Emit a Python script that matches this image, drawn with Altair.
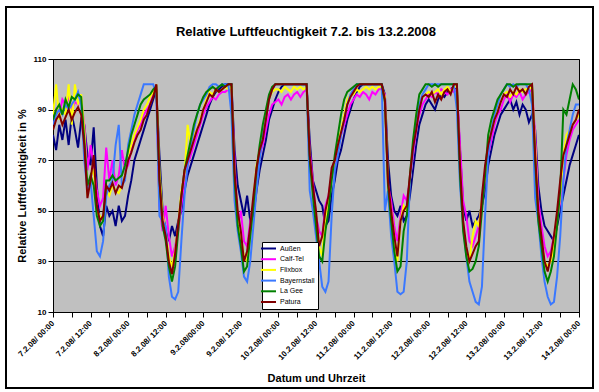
import json
import altair as alt
import pandas as pd

# Hourly readings from 7.2.2008 00:00 (hour 0) to 14.2.2008 00:00 (hour 168)
hours = list(range(0, 169))

aussen = [
    80, 74, 84, 78, 86, 76, 88, 82, 75, 86, 84, 72, 68, 83, 60, 44, 40, 52, 48, 50, 44, 52, 46, 48,
    56, 62, 70, 74, 78, 82, 86, 90, 94, 98, 72, 50, 42, 38, 44, 40, 46, 50, 58, 64, 68, 72, 76, 80,
    84, 88, 92, 95, 97, 98, 99, 100, 100, 100, 74, 60, 54, 48, 56, 46, 48, 58, 66, 72, 78, 86, 90, 94,
    97, 99, 100, 100, 100, 100, 100, 100, 100, 100, 78, 62, 58, 54, 52, 44, 46, 56, 62, 70, 74, 80, 86, 90,
    94, 97, 99, 100, 100, 100, 100, 100, 100, 100, 96, 70, 56, 50, 48, 52, 46, 48, 56, 66, 76, 84, 88, 92,
    94, 92, 90, 94, 96, 95, 97, 98, 99, 97, 74, 52, 46, 50, 44, 46, 48, 52, 58, 68, 74, 80, 84, 88,
    90, 92, 94, 90, 93, 88, 92, 90, 85, 88, 82, 60, 50, 44, 42, 40, 38, 44, 50, 56, 62, 68, 72, 76,
    80,
]
calf_tel = [
    86, 90, 88, 94, 92, 95, 90, 93, 92, 94, 84, 66, 76, 68, 58, 52, 55, 75, 62, 70, 60, 64, 74, 66,
    68, 74, 78, 82, 84, 88, 90, 92, 96, 98, 52, 42, 52, 40, 32, 36, 42, 52, 62, 68, 72, 76, 80, 84,
    88, 91, 93, 95, 94, 96, 97, 97, 98, 98, 70, 44, 50, 38, 36, 46, 52, 62, 72, 76, 82, 88, 92, 93,
    94, 92, 95, 96, 94, 96, 97, 95, 97, 98, 74, 62, 48, 42, 40, 52, 56, 64, 68, 74, 80, 84, 88, 92,
    94, 96, 95, 97, 96, 94, 97, 96, 98, 98, 96, 60, 54, 44, 38, 48, 56, 54, 62, 72, 82, 88, 92, 94,
    96, 95, 97, 96, 98, 97, 96, 98, 97, 98, 76, 54, 48, 38, 36, 40, 44, 52, 62, 72, 78, 84, 88, 90,
    94, 96, 93, 96, 95, 97, 94, 96, 97, 98, 80, 54, 44, 36, 32, 34, 40, 46, 54, 62, 72, 78, 82, 84,
    86,
]
flixbox = [
    88, 100, 86, 90, 88, 100, 84, 100, 92, 96, 82, 56, 64, 66, 50, 48, 46, 58, 56, 60, 58, 57, 60, 64,
    72, 76, 80, 83, 86, 90, 92, 95, 97, 99, 66, 48, 42, 32, 28, 34, 44, 58, 64, 84, 76, 80, 82, 86,
    90, 94, 97, 96, 98, 97, 98, 99, 98, 99, 64, 48, 40, 32, 30, 42, 54, 68, 74, 80, 86, 94, 97, 98,
    98, 97, 99, 98, 97, 99, 98, 99, 98, 99, 70, 58, 48, 36, 32, 48, 52, 64, 70, 76, 82, 88, 94, 96,
    96, 98, 97, 98, 99, 98, 99, 98, 99, 99, 95, 60, 50, 40, 30, 46, 52, 50, 62, 76, 88, 92, 95, 96,
    97, 96, 97, 98, 96, 98, 99, 97, 99, 99, 66, 44, 34, 30, 40, 46, 44, 54, 64, 74, 82, 86, 90, 93,
    96, 97, 95, 97, 96, 98, 97, 98, 98, 99, 76, 48, 38, 30, 28, 30, 36, 46, 56, 72, 80, 82, 84, 86,
    88,
]
bayernstall = [
    84, 88, 90, 88, 92, 90, 92, 94, 97, 92, 70, 58, 62, 48, 34, 32, 38, 56, 60, 62, 76, 84, 60, 62,
    76, 82, 88, 92, 96, 100, 100, 100, 100, 96, 48, 46, 44, 24, 16, 15, 18, 38, 56, 68, 76, 82, 88, 92,
    94, 96, 99, 100, 100, 99, 100, 100, 100, 88, 54, 42, 34, 24, 22, 30, 44, 58, 70, 80, 86, 94, 98, 100,
    100, 100, 100, 100, 100, 100, 100, 100, 100, 100, 58, 50, 40, 30, 20, 18, 22, 48, 66, 72, 80, 86, 92, 96,
    98, 100, 100, 100, 100, 100, 100, 100, 100, 100, 50, 58, 40, 30, 18, 17, 18, 30, 62, 74, 86, 92, 96, 98,
    100, 100, 100, 100, 100, 100, 100, 100, 100, 90, 60, 44, 32, 22, 18, 14, 13, 20, 48, 72, 82, 88, 92, 96,
    98, 100, 99, 100, 99, 100, 100, 100, 98, 92, 55, 46, 32, 22, 16, 13, 14, 24, 40, 62, 76, 82, 88, 92,
    92,
]
la_gee = [
    86, 90, 92, 88, 94, 91, 95, 94, 96, 95, 78, 60, 64, 60, 48, 44, 46, 62, 62, 64, 62, 63, 64, 68,
    74, 80, 84, 88, 92, 94, 95, 96, 98, 99, 62, 44, 38, 28, 22, 28, 42, 56, 66, 72, 78, 84, 88, 92,
    95, 97, 98, 99, 98, 99, 100, 99, 100, 100, 62, 44, 36, 26, 28, 40, 52, 66, 76, 84, 90, 96, 99, 100,
    100, 100, 100, 100, 100, 100, 100, 100, 100, 100, 70, 56, 44, 32, 30, 42, 50, 62, 72, 80, 88, 94, 97, 98,
    99, 100, 100, 100, 100, 100, 100, 100, 100, 100, 93, 60, 46, 34, 26, 28, 42, 48, 64, 78, 88, 96, 98, 100,
    100, 99, 100, 99, 100, 100, 100, 100, 100, 100, 64, 42, 32, 26, 27, 30, 36, 50, 64, 80, 86, 90, 94, 96,
    98, 100, 100, 99, 100, 100, 100, 100, 100, 100, 70, 46, 36, 26, 22, 26, 32, 44, 58, 90, 88, 94, 100, 98,
    94,
]
patura = [
    82, 86, 88, 84, 87, 90, 86, 89, 91, 88, 76, 55, 62, 72, 52, 46, 48, 60, 58, 61, 57, 60, 59, 64,
    70, 73, 77, 80, 82, 86, 88, 92, 95, 100, 62, 46, 40, 30, 25, 33, 45, 56, 66, 70, 74, 78, 82, 85,
    90, 93, 96, 95, 98, 97, 98, 99, 100, 100, 65, 50, 42, 30, 34, 44, 56, 67, 74, 78, 86, 94, 98, 100,
    100, 100, 100, 100, 100, 100, 100, 100, 100, 100, 72, 60, 50, 36, 40, 50, 56, 67, 70, 76, 81, 86, 92, 95,
    97, 99, 100, 100, 100, 100, 100, 100, 100, 100, 94, 62, 50, 40, 32, 46, 50, 52, 64, 75, 82, 90, 95, 96,
    95, 97, 93, 96, 94, 97, 98, 96, 100, 100, 68, 46, 36, 30, 33, 36, 38, 56, 68, 76, 81, 86, 89, 93,
    96, 95, 98, 96, 99, 97, 98, 96, 99, 100, 72, 50, 40, 30, 26, 32, 40, 50, 62, 72, 76, 80, 84, 86,
    90,
]

series_names = ["Außen", "Calf-Tel", "Flixbox", "Bayernstall", "La Gee", "Patura"]
series_colors = ["#000080", "#FF00FF", "#FFFF00", "#3A78FF", "#008000", "#800000"]
series_values = [aussen, calf_tel, flixbox, bayernstall, la_gee, patura]

tick_labels = [
    "7.2.08/ 00:00", "7.2.08/ 12:00", "8.2.08/ 00:00", "8.2.08/ 12:00",
    "9.2.08/00:00", "9.2.08/ 12:00", "10.2.08/ 00:00", "10.2.08/ 12:00",
    "11.2.08/ 00:00", "11.2.08/ 12:00", "12.2.08/ 00:00", "12.2.08/ 12:00",
    "13.2.08/ 00:00", "13.2.08/ 12:00", "14.2.08/ 00:00",
]
y_ticks = [10, 30, 50, 70, 90, 110]

title_text = "Relative Luftfeuchtigkeit 7.2. bis 13.2.2008"
FONT = "Liberation Sans"

for vals in series_values:
    assert len(vals) == len(hours)

# long table, series kept in drawing order (Patura ends up on top)
rows = []
for name, vals in zip(series_names, series_values):
    for h, v in zip(hours, vals):
        rows.append({"stunde": h, "wert": v, "serie": name})
df = pd.DataFrame(rows)

# ticks every 6 hours, labels every 12 hours
tick_values = list(range(0, 169, 6))
labels_6h = [tick_labels[i // 2] if i % 2 == 0 else "" for i in range(len(tick_values))]
label_expr = json.dumps(labels_6h) + "[round(datum.value / 6)]"

W, H = 526, 253

lines = alt.Chart(df).mark_line(strokeWidth=2, clip=True).encode(
    x=alt.X(
        "stunde:Q",
        scale=alt.Scale(domain=[0, 168], nice=False, zero=False),
        axis=alt.Axis(
            title="Datum und Uhrzeit",
            values=tick_values,
            labelExpr=label_expr,
            labelAngle=315,
            labelAlign="right",
            labelBaseline="middle",
            labelPadding=5,
            labelFont=FONT,
            labelFontSize=8,
            labelFontWeight="bold",
            labelColor="black",
            labelOverlap=False,
            tickSize=5,
            tickColor="black",
            domainColor="black",
            grid=False,
            titleFont=FONT,
            titleFontSize=11,
            titleFontWeight="bold",
            titleColor="black",
            titleX=W / 2,
            titleY=69,
            titleAlign="center",
            titleBaseline="alphabetic",
        ),
    ),
    y=alt.Y(
        "wert:Q",
        scale=alt.Scale(domain=[10, 110], nice=False, zero=False),
        axis=alt.Axis(
            title="Relative Luftfeuchtigkeit in %",
            values=y_ticks,
            labelFont=FONT,
            labelFontSize=8,
            labelFontWeight="bold",
            labelColor="black",
            labelPadding=2,
            tickSize=5,
            tickColor="black",
            domainColor="black",
            grid=True,
            gridColor="black",
            gridWidth=1,
            gridOpacity=1,
            titleFont=FONT,
            titleFontSize=11,
            titleFontWeight="bold",
            titleColor="black",
            titleAngle=270,
            titleX=-28,
            titleY=H / 2,
            titleAlign="center",
            titleBaseline="alphabetic",
        ),
    ),
    color=alt.Color(
        "serie:N",
        scale=alt.Scale(domain=series_names, range=series_colors),
        legend=alt.Legend(
            title=None,
            orient="none",
            legendX=209,
            legendY=183,
            symbolType="M-3,0H3",
            symbolSize=25,
            symbolStrokeWidth=2,
            labelOffset=8,
            labelFont=FONT,
            labelFontSize=7,
            labelColor="black",
            rowPadding=1.7,
            padding=3,
            fillColor="white",
            strokeColor="black",
        ),
    ),
    order=alt.Order("stunde:Q"),
)

title = alt.Chart(pd.DataFrame({"t": [title_text]})).mark_text(
    font=FONT, fontSize=13, fontWeight="bold", align="center", baseline="alphabetic", color="black"
).encode(text="t:N", x=alt.value(253), y=alt.value(-23))

frame = alt.Chart(pd.DataFrame({"t": [0]})).mark_rect(
    fill=None, stroke="black", strokeWidth=2, clip=False
).encode(x=alt.value(-47), x2=alt.value(540), y=alt.value(-52), y2=alt.value(329))

chart = alt.layer(frame, lines, title).properties(
    width=W,
    height=H,
    padding={"left": 53, "top": 59, "right": 20, "bottom": 80},
    autosize=alt.AutoSizeParams(type="none"),
    background="white",
).configure_view(
    fill="#C0C0C0", stroke="black", strokeWidth=1
)

chart.save("out.html", embed_options={"renderer": "svg", "actions": False})
